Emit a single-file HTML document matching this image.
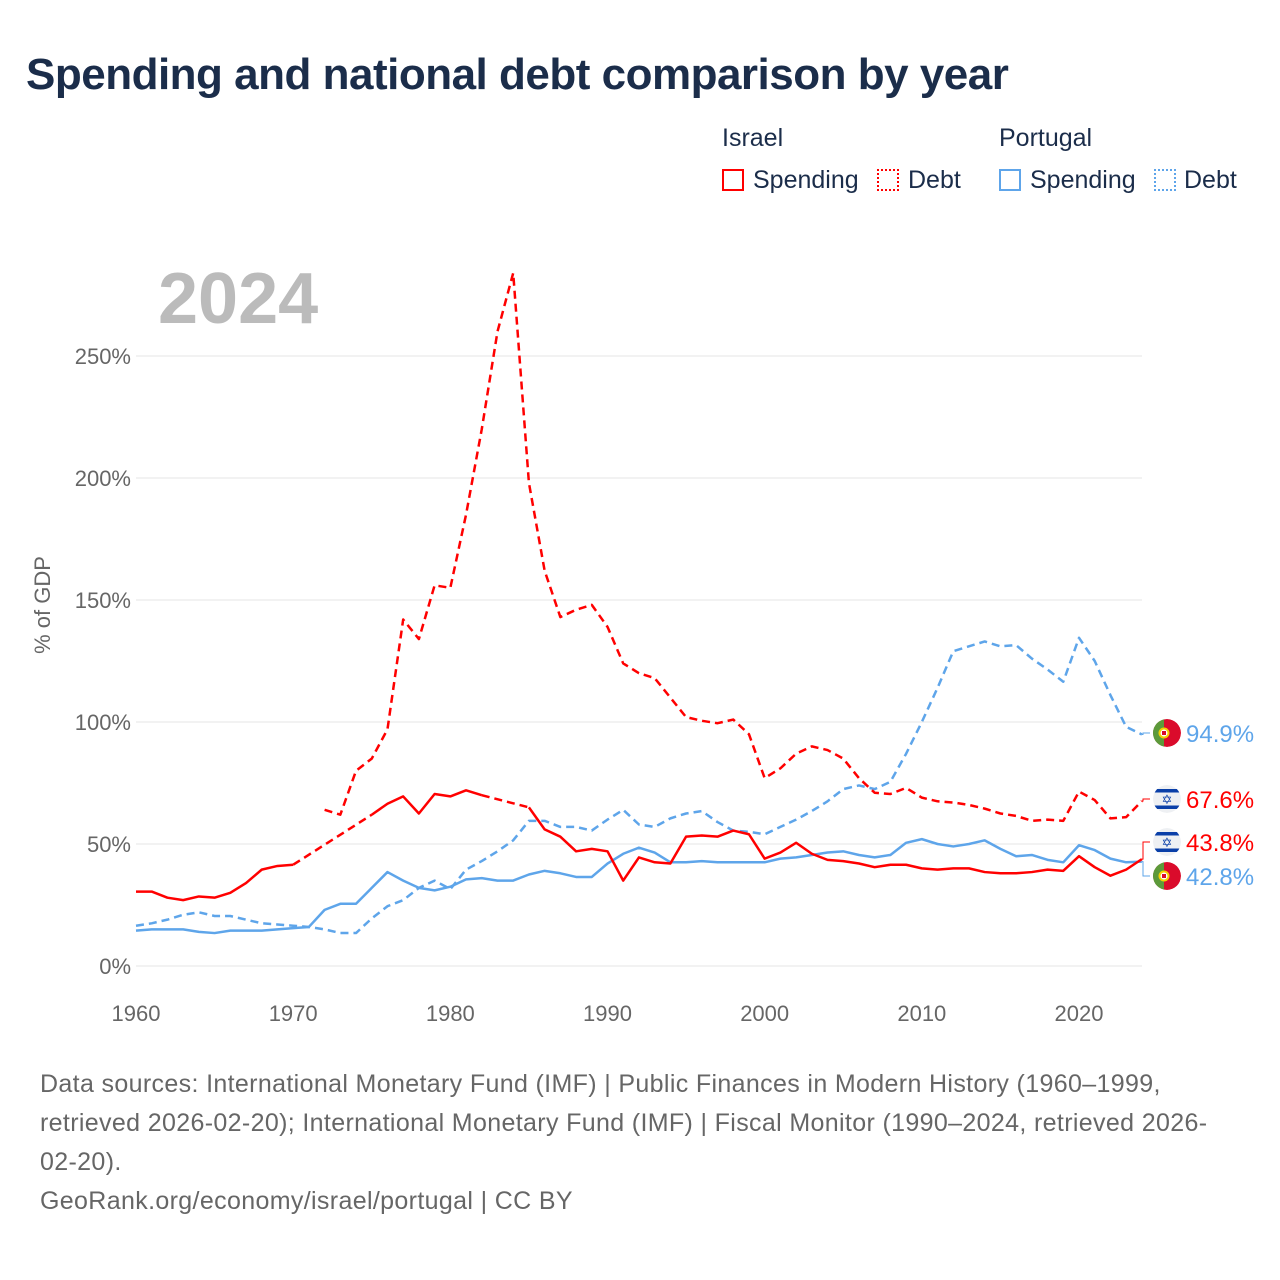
<!DOCTYPE html>
<html><head><meta charset="utf-8">
<style>
body{margin:0;background:#fff;font-family:"Liberation Sans",sans-serif;}
#wrap{position:relative;width:1280px;height:1280px;overflow:hidden;}
h1{position:absolute;left:26px;top:50px;margin:0;font-size:44px;font-weight:bold;color:#1b2d4a;letter-spacing:-0.5px;}
.lg{position:absolute;font-size:25px;color:#1b2d4a;}
.sw{position:absolute;width:22px;height:22px;box-sizing:border-box;}
.src{position:absolute;left:40px;top:1065px;width:1240px;font-size:25px;letter-spacing:0.35px;line-height:39px;color:#666;white-space:nowrap;}
</style></head><body>
<div id="wrap">
<h1>Spending and national debt comparison by year</h1>
<div class="lg" style="left:722px;top:124px">Israel</div>
<div class="lg" style="left:999px;top:124px">Portugal</div>
<div class="sw" style="left:722px;top:169px;border:2px solid #f00"></div>
<div class="lg" style="left:753px;top:166px">Spending</div>
<div class="sw" style="left:877px;top:169px;border:2px dotted #f00"></div>
<div class="lg" style="left:908px;top:166px">Debt</div>
<div class="sw" style="left:999px;top:169px;border:2px solid #5ea5ea"></div>
<div class="lg" style="left:1030px;top:166px">Spending</div>
<div class="sw" style="left:1154px;top:169px;border:2px dotted #5ea5ea"></div>
<div class="lg" style="left:1184px;top:166px">Debt</div>
<svg id="plot" width="1280" height="1280" style="position:absolute;left:0;top:0">
<defs><clipPath id="fc"><circle cx="0" cy="0" r="14"/></clipPath></defs>
</svg>
<div class="src">Data sources: International Monetary Fund (IMF) | Public Finances in Modern History (1960–1999,<br>retrieved 2026-02-20); International Monetary Fund (IMF) | Fiscal Monitor (1990–2024, retrieved 2026-<br>02-20).<br>GeoRank.org/economy/israel/portugal | CC BY</div>
</div>
<script>
const years=[];for(let y=1960;y<=2024;y++)years.push(y);
const yTicks=[0,50,100,150,200,250];
const xTicks=[1960,1970,1980,1990,2000,2010,2020];
const israelSpending=[30.5,30.5,28,27,28.5,28,30,34,39.5,41,41.5,null,null,null,null,62,66.5,69.5,62.5,70.5,69.5,72,70,null,null,65,56,53,47,48,47,35,44.5,42.5,42,53,53.5,53,55.5,54,44,46.5,50.5,46,43.5,43,42,40.5,41.5,41.5,40,39.5,40,40,38.5,38,38,38.5,39.5,39,45,40.5,37,39.5,43.8];
const israelDebt=[null,null,null,null,null,null,null,null,null,null,null,null,64,62,80,85,97,142,134,156,155,185,220,260,284,198,162,143,146,148,139,124,120,118,110,102,100.5,99.5,101,95,77,81,87,90,88.5,85,77,71,70.5,73,69,67.5,67,66,64.5,62.5,61.5,59.5,60,59.5,71.5,68,60.5,61,67.6];
const portugalSpending=[14.5,15,15,15,14,13.5,14.5,14.5,14.5,15,15.5,16,23,25.5,25.5,32,38.5,35,32,31,32.5,35.5,36,35,35,37.5,39,38,36.5,36.5,42,46,48.5,46.5,42.5,42.5,43,42.5,42.5,42.5,42.5,44,44.5,45.5,46.5,47,45.5,44.5,45.5,50.5,52,50,49,50,51.5,48,45,45.5,43.5,42.5,49.5,47.5,44,42.5,42.8];
const portugalDebt=[16.5,17.5,19,21,22,20.5,20.5,19,17.5,17,16.5,16,15,13.5,13.5,19.5,24.5,27,32,35,31.5,39.5,43,47,51.5,59.5,59.5,57,57,55.5,60,64,58,57,60.5,62.5,63.5,59,55.5,55,54,57,60,63.5,67.5,72.5,74,72.5,75.5,87,100,114,129,131,133,131,131.5,126,121.5,116.5,134.5,125,111,98,94.9];
const X0=136,X1=1142,Y0=966;
const xs=y=>X0+(y-1960)*(1079-136)/60;
const ys=v=>Y0-v*(966-356)/250;
const NS="http://www.w3.org/2000/svg";
const svg=document.getElementById('plot');
function mk(t,a,p){const e=document.createElementNS(NS,t);for(const k in a)e.setAttribute(k,a[k]);(p||svg).appendChild(e);return e;}
yTicks.forEach(v=>{
 const l=mk('line',{x1:X0,x2:X1,y1:ys(v),y2:ys(v),stroke:'#e6e6e6','stroke-width':1});
 
 
 const t=mk('text',{x:131,y:ys(v)+8,'text-anchor':'end','font-size':22,fill:'#666'});t.textContent=v+'%';
 
 
});
xTicks.forEach(y=>{
 const t=mk('text',{x:xs(y),y:1021,'text-anchor':'middle','font-size':22,fill:'#666'});t.textContent=y;
 
 
});
const yt=mk('text',{transform:'translate(50,605) rotate(-90)','text-anchor':'middle','font-size':22,fill:'#666'});yt.textContent='% of GDP';


const yr=mk('text',{x:158,y:323,'font-size':72,'font-weight':'bold',fill:'#bbb'});yr.textContent='2024';


function series(vals,color,dashed,name){
 let segs=[],cur=[],gaps=[],last=null;
 vals.forEach((v,i)=>{
  if(v==null){if(cur.length){segs.push(cur);cur=[];}return;}
  if(!cur.length&&last!=null&&i-last>1)gaps.push([[xs(years[last]),ys(vals[last])],[xs(years[i]),ys(v)]]);
  cur.push([xs(years[i]),ys(v)]);last=i;
 });
 if(cur.length)segs.push(cur);
 segs.forEach(s=>{
  const p=mk('polyline',{points:s.map(q=>q.join(',')).join(' '),fill:'none',stroke:color,'stroke-width':2.5,'stroke-linejoin':'round','stroke-dasharray':dashed?'8,5':'none'});
  
  
 });
 gaps.forEach(g=>{
  const p=mk('polyline',{points:g.map(q=>q.join(',')).join(' '),fill:'none',stroke:color,'stroke-width':2.5,'stroke-dasharray':'8,5'});
  
  
 });
}
series(portugalDebt,'#5ea5ea',true,'portugal-debt');
series(portugalSpending,'#5ea5ea',false,'portugal-spending');
series(israelDebt,'#f00',true,'israel-debt');
series(israelSpending,'#f00',false,'israel-spending');
function flag(cx,cy,pt,name){
 const g=mk('g',{transform:`translate(${cx},${cy})`,'clip-path':'url(#fc)'});
 
 
 if(pt){
  mk('circle',{cx:0,cy:0,r:14,fill:'#da0b2b'},g);
  mk('rect',{x:-14,y:-14,width:11,height:28,fill:'#5c9a3a'},g);
  mk('circle',{cx:-3,cy:0,r:4.5,fill:'#fff',stroke:'#f5d100','stroke-width':2},g);
  mk('rect',{x:-5,y:-2,width:4,height:4,fill:'#da0b2b'},g);
 }else{
  mk('circle',{cx:0,cy:0,r:14,fill:'#eef0f3'},g);
  mk('rect',{x:-14,y:-10,width:28,height:3.5,fill:'#0a3fa8'},g);
  mk('rect',{x:-14,y:6.5,width:28,height:3.5,fill:'#0a3fa8'},g);
  const t=mk('text',{x:0,y:5,'text-anchor':'middle','font-size':13,fill:'#0a3fa8'},g);t.textContent='✡';
 }
}
const labels=[[portugalDebt[64],733,true,'#5ea5ea','portugal-debt'],[israelDebt[64],799,false,'#f00','israel-debt'],[israelSpending[64],842,false,'#f00','israel-spending'],[portugalSpending[64],876,true,'#5ea5ea','portugal-spending']];
labels.forEach(([v,ly,pt,c,n])=>{
 const vy=ys(v);
 const p=mk('polyline',{points:`${xs(2024)},${vy} 1143,${vy} 1143,${ly} 1150,${ly}`,fill:'none',stroke:c,'stroke-width':1});
 
 
 flag(1167,ly,pt,n+'-flag');
 const t=mk('text',{x:1186,y:ly+9,'font-size':24,fill:c});t.textContent=v.toFixed(1)+'%';
 
 
});
</script>
</body></html>
